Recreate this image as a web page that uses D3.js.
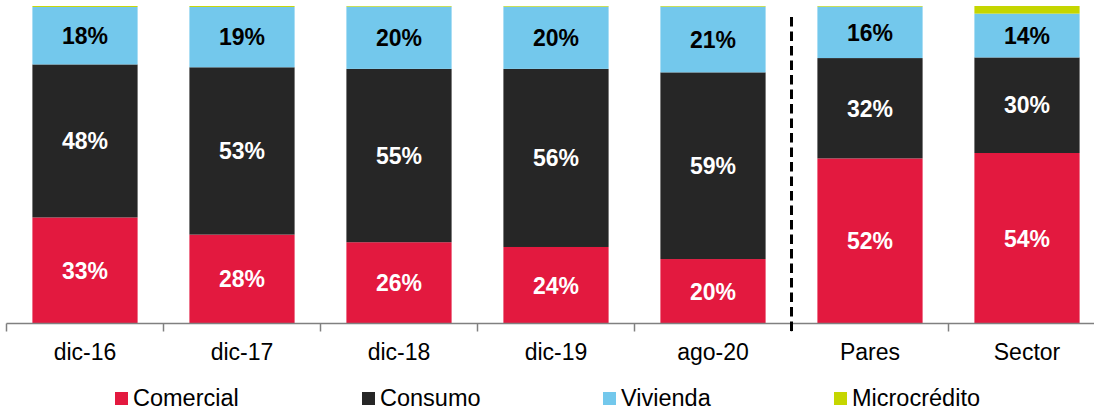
<!DOCTYPE html>
<html lang="es">
  <head>
    <meta charset="utf-8" />
    <script src="https://d3js.org/d3.v7.min.js"></script>
    <style>
      body {
        margin: 0;
        background: #fff;
      }
      text {
        font-family: "Liberation Sans", Arial, sans-serif;
      }
      .bar-label {
        font-size: 23px;
        font-weight: bold;
      }
      .x-axis text {
        font-size: 23px;
        fill: #000;
      }
      .legend-text {
        font-size: 23.5px;
      }
    </style>
  </head>
  <body>
    <svg id="chart" width="1094" height="413"></svg>
    <script>
      // data (% of portfolio)
      const categories = ["dic-16", "dic-17", "dic-18", "dic-19", "ago-20", "Pares", "Sector"];
      const comercial = [33.4, 28.0, 25.6, 24.1, 20.3, 52.0, 53.7];
      const consumo = [48.2, 52.7, 54.6, 56.1, 58.8, 31.6, 30.1];
      const vivienda = [18.1, 19.0, 19.6, 19.6, 20.7, 16.2, 13.8];
      const microcredito = [0.3, 0.3, 0.2, 0.2, 0.2, 0.2, 2.4];

      const seriesNames = ["Comercial", "Consumo", "Vivienda", "Microcrédito"];
      const seriesColors = ["#e3193f", "#262626", "#73c8ec", "#c5d600"];
      const labelColors = ["#fff", "#fff", "#000", null];

      const svg = d3.select("#chart");
      const axisY = 323.5;
      const topY = 6;

      const rows = categories.map((c, i) => ({
        cat: c,
        Comercial: comercial[i],
        Consumo: consumo[i],
        Vivienda: vivienda[i],
        "Microcrédito": microcredito[i],
      }));

      const stack = d3.stack().keys(seriesNames);
      const layers = stack(rows);

      const x = d3
        .scaleBand()
        .domain(categories)
        .range([6.5, 1105.5])
        .paddingInner(0.33)
        .paddingOuter(0.165);

      const y = d3.scaleLinear().domain([0, 100]).range([axisY, topY]);

      // bars
      const groups = svg
        .selectAll("g.layer")
        .data(layers)
        .enter()
        .append("g")
        .attr("class", "layer")
        .attr("fill", (d, i) => seriesColors[i]);

      groups
        .selectAll("rect")
        .data((d) => d)
        .enter()
        .append("rect")
        .attr("x", (d) => x(d.data.cat))
        .attr("y", (d) => y(d[1]))
        .attr("width", x.bandwidth())
        .attr("height", (d) => y(d[0]) - y(d[1]));

      // value labels
      const fmt = (v) => d3.format(".0f")(v) + "%";
      layers.forEach((layer, i) => {
        if (!labelColors[i]) return;
        svg
          .append("g")
          .selectAll("text")
          .data(layer)
          .enter()
          .append("text")
          .attr("class", "bar-label")
          .attr("x", (d) => x(d.data.cat) + x.bandwidth() / 2)
          .attr("y", (d) => (y(d[0]) + y(d[1])) / 2)
          .attr("dy", "0.36em")
          .attr("text-anchor", "middle")
          .attr("fill", labelColors[i])
          .text((d) => fmt(d.data[layer.key]));
      });

      // x axis: labels at centres, ticks at band edges
      const xAxis = svg
        .append("g")
        .attr("class", "x-axis")
        .attr("transform", `translate(0,${axisY})`)
        .call(d3.axisBottom(x).tickSize(0).tickPadding(20));
      xAxis.select(".domain").remove();

      svg
        .append("line")
        .attr("x1", x.range()[0])
        .attr("x2", 1094)
        .attr("y1", axisY)
        .attr("y2", axisY)
        .attr("stroke", "#808080")
        .attr("stroke-width", 1.5);

      svg
        .append("g")
        .selectAll("line")
        .data(d3.range(categories.length))
        .enter()
        .append("line")
        .attr("x1", (i) => x.range()[0] + i * x.step())
        .attr("x2", (i) => x.range()[0] + i * x.step())
        .attr("y1", axisY)
        .attr("y2", axisY + 8)
        .attr("stroke", "#808080")
        .attr("stroke-width", 1.5);

      // dashed separator between history and peers
      const sepX = x.range()[0] + 5 * x.step();
      svg
        .append("line")
        .attr("x1", sepX)
        .attr("x2", sepX)
        .attr("y1", 17)
        .attr("y2", axisY + 9)
        .attr("stroke", "#000")
        .attr("stroke-width", 3)
        .attr("stroke-dasharray", "9.5,5");

      // legend
      const legendX = [115, 362, 603, 834];
      const legend = svg.append("g").attr("class", "legend");
      seriesNames.forEach((name, i) => {
        legend
          .append("rect")
          .attr("x", legendX[i])
          .attr("y", 392)
          .attr("width", 13)
          .attr("height", 13)
          .attr("fill", seriesColors[i]);
        legend
          .append("text")
          .attr("class", "legend-text")
          .attr("x", legendX[i] + 18)
          .attr("y", 406)
          .text(name);
      });
    </script>
  </body>
</html>
